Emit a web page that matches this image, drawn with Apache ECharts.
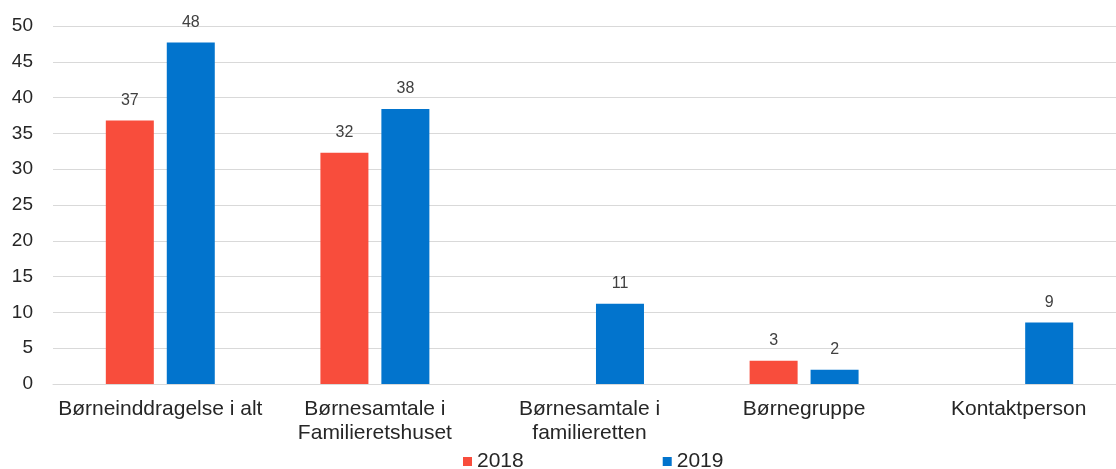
<!DOCTYPE html>
<html>
<head>
<meta charset="utf-8">
<script src="https://cdn.jsdelivr.net/npm/echarts@6/dist/echarts.min.js"></script>
<style>
    html, body { margin: 0; padding: 0; background: #ffffff; }
    #chart { width: 1116px; height: 469px; }
</style>
</head>
<body>
<div id="chart"></div>
<script>
    // data
    const categories = ['Børneinddragelse i alt', 'Børnesamtale i\nFamilieretshuset', 'Børnesamtale i\nfamilieretten', 'Børnegruppe', 'Kontaktperson'];
    const values2018 = [36.8, 32.3, null, 3.25, null];
    const values2019 = [47.7, 38.4, 11.2, 2.0, 8.6];
    const yTicks = [0, 5, 10, 15, 20, 25, 30, 35, 40, 45, 50];

    const chart = echarts.init(document.getElementById('chart'));

    const labelStyle = {
        show: true,
        position: 'top',
        distance: 12,
        color: '#404040',
        fontSize: 16,
        fontFamily: 'Liberation Sans',
        formatter: p => Math.round(p.value)
    };

    chart.setOption({
        animation: false,
        textStyle: { fontFamily: 'Liberation Sans' },
        grid: {
            left: 53,
            right: -10,   // plot area runs past the right edge in the original
            top: 26,
            bottom: 85,
            outerBoundsMode: 'none'
        },
        legend: {
            top: 451,
            left: 463,
            padding: 0,
            itemWidth: 9,
            itemHeight: 9,
            itemGap: 139,
            icon: 'rect',
            textStyle: { fontSize: 21, color: '#262626' },
            data: ['2018', '2019']
        },
        xAxis: {
            type: 'category',
            data: categories,
            axisLine: { lineStyle: { color: '#d9d9d9' } },
            axisTick: { show: false },
            axisLabel: {
                interval: 0,
                margin: 13,
                fontSize: 21,
                lineHeight: 24,
                color: '#262626'
            }
        },
        yAxis: {
            type: 'value',
            min: yTicks[0],
            max: yTicks[yTicks.length - 1],
            interval: 5,
            axisLine: { show: false },
            axisTick: { show: false },
            splitLine: { lineStyle: { color: '#d9d9d9', width: 1 } },
            axisLabel: {
                fontSize: 19,
                color: '#262626',
                margin: 20
            }
        },
        series: [
            {
                name: '2018',
                type: 'bar',
                data: values2018,
                barWidth: 48,
                barGap: '27%',
                itemStyle: { color: '#F84D3C' },
                label: labelStyle
            },
            {
                name: '2019',
                type: 'bar',
                data: values2019,
                barWidth: 48,
                itemStyle: { color: '#0274CD' },
                label: labelStyle
            }
        ]
    });
</script>
</body>
</html>
